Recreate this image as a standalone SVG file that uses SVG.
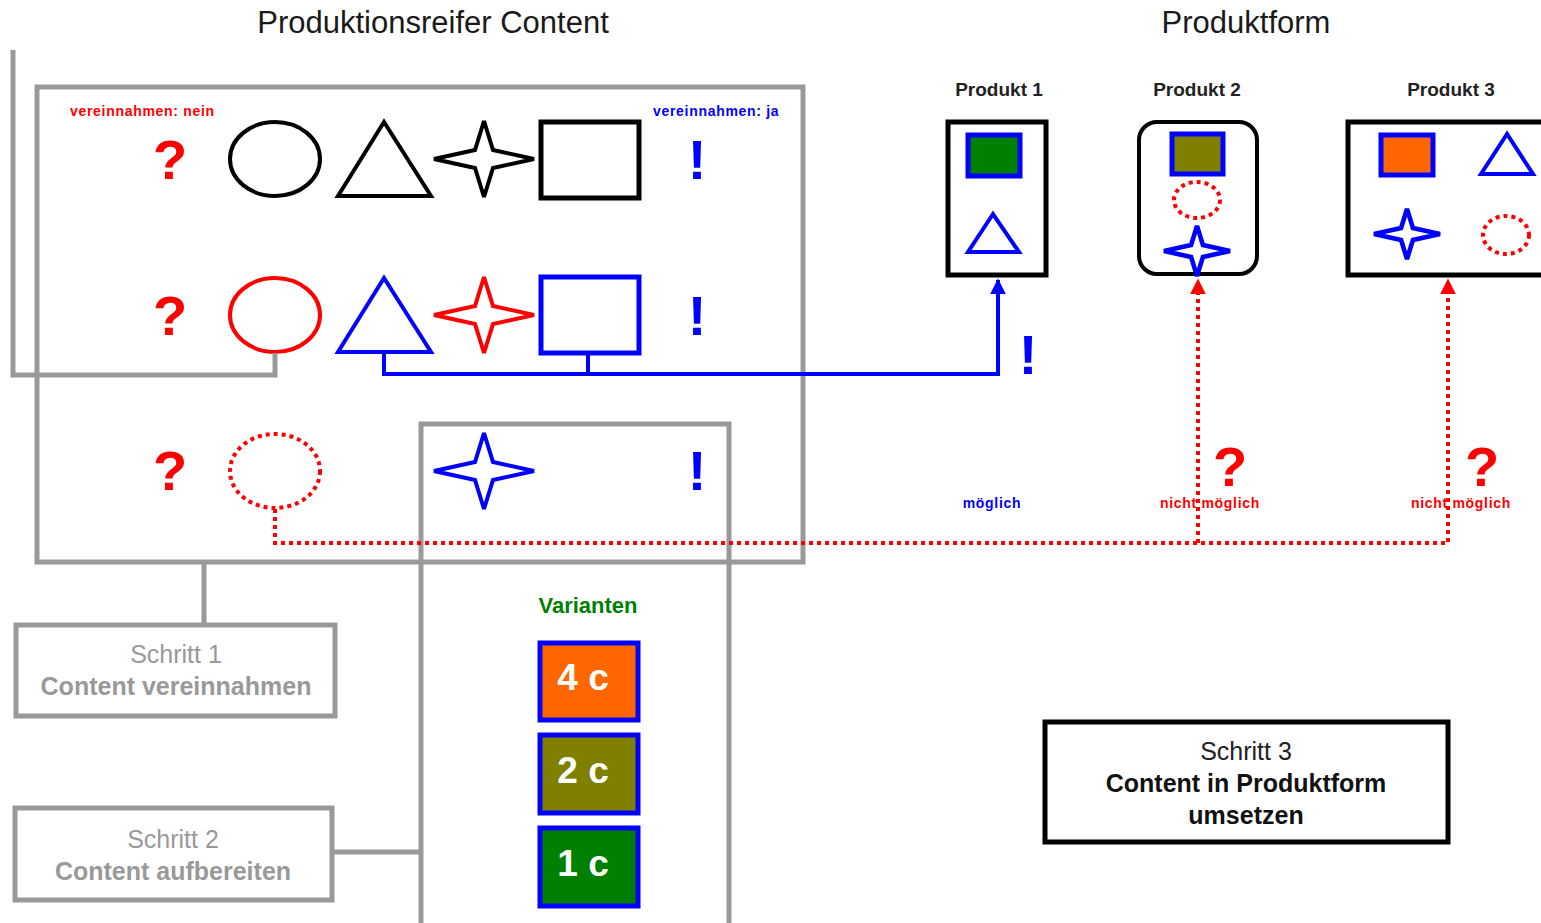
<svg xmlns="http://www.w3.org/2000/svg" width="1541" height="923" viewBox="0 0 1541 923">
<style>
text{font-family:"Liberation Sans",Arial,sans-serif}
.g{fill:none;stroke:#999;stroke-width:5}
.q{fill:#f00;font-weight:bold;font-size:56px;text-anchor:middle}
.x{fill:#00f;font-weight:bold;font-size:56px;text-anchor:middle}
.hd{fill:#1a1a1a;font-size:31px;text-anchor:middle}
.pl{fill:#222;font-size:19px;font-weight:bold;text-anchor:middle}
.sm{font-size:14px;font-weight:bold;letter-spacing:0.7px}
.st{fill:#999;font-size:25px;text-anchor:middle}
.stb{fill:#999;font-size:25px;font-weight:bold;text-anchor:middle}
.vt{fill:#fff;font-size:37px;font-weight:bold;text-anchor:middle}
.vb{stroke:#00f;stroke-width:5}
.dot{fill:none;stroke:#f00;stroke-width:4;stroke-dasharray:4 4}
</style>
<defs>
<path id="star" d="M0,-38 L9,-9 L50,0 L9,9 L0,38 L-9,9 L-50,0 L-9,-9 Z" stroke-linejoin="miter" stroke-miterlimit="2"/>
<marker id="ab" viewBox="0 0 10 10" refX="9" refY="5" markerWidth="4" markerHeight="4" orient="auto" markerUnits="strokeWidth"><path d="M0,0 L10,5 L0,10 Z" fill="#00f"/></marker>
<marker id="ar" viewBox="0 0 10 10" refX="9" refY="5" markerWidth="4" markerHeight="4" orient="auto" markerUnits="strokeWidth"><path d="M0,0 L10,5 L0,10 Z" fill="#f00"/></marker>
</defs>
<rect width="1541" height="923" fill="#fff"/>

<text class="hd" x="433" y="33">Produktionsreifer Content</text>
<text class="hd" x="1246" y="33">Produktform</text>

<g id="content-box">
<rect class="g" x="37" y="87" width="766" height="475"/>
<text class="sm" x="70" y="116" fill="#f00">vereinnahmen: nein</text>
<text class="sm" x="653" y="116" fill="#00f">vereinnahmen: ja</text>
</g>

<g id="varianten-box">
<rect class="g" x="421" y="424" width="308" height="505"/>
<text x="588" y="613" fill="#008000" font-size="22" font-weight="bold" text-anchor="middle">Varianten</text>
<rect class="vb" x="540" y="643" width="98" height="77" fill="#f60"/>
<text class="vt" x="583" y="690">4 c</text>
<rect class="vb" x="540" y="735" width="98" height="78" fill="#808000"/>
<text class="vt" x="583" y="783">2 c</text>
<rect class="vb" x="540" y="828" width="98" height="78" fill="#008000"/>
<text class="vt" x="583" y="876">1 c</text>
</g>

<g id="row1">
<text class="q" x="170" y="179">?</text>
<ellipse cx="275" cy="159" rx="45" ry="37" fill="none" stroke="#000" stroke-width="4"/>
<polygon points="384,122 338,196 431,196" fill="none" stroke="#000" stroke-width="4"/>
<use href="#star" transform="translate(484,159)" fill="none" stroke="#000" stroke-width="4"/>
<rect x="541" y="122" width="98" height="76" fill="none" stroke="#000" stroke-width="5"/>
<text class="x" x="697" y="179">!</text>
</g>

<g id="row2">
<text class="q" x="170" y="335">?</text>
<ellipse cx="275" cy="315" rx="45" ry="37" fill="none" stroke="#f00" stroke-width="4"/>
<polygon points="384,278 338,352 431,352" fill="none" stroke="#00f" stroke-width="4"/>
<use href="#star" transform="translate(484,315)" fill="none" stroke="#f00" stroke-width="4"/>
<rect x="541" y="277" width="98" height="76" fill="none" stroke="#00f" stroke-width="5"/>
<text class="x" x="697" y="335">!</text>
</g>

<g id="row3">
<text class="q" x="170" y="490">?</text>
<ellipse class="dot" cx="275" cy="471" rx="45" ry="37"/>
<use href="#star" transform="translate(484,471)" fill="none" stroke="#00f" stroke-width="4"/>
<text class="x" x="697" y="490">!</text>
</g>

<g id="schritt1">
<rect class="g" x="16" y="625" width="319" height="91"/>
<text class="st" x="176" y="663">Schritt 1</text>
<text class="stb" x="176" y="695">Content vereinnahmen</text>
</g>
<g id="schritt2">
<rect class="g" x="15" y="808" width="317" height="92"/>
<text class="st" x="173" y="848">Schritt 2</text>
<text class="stb" x="173" y="880">Content aufbereiten</text>
</g>
<g id="schritt3">
<rect x="1045" y="722" width="403" height="120" fill="none" stroke="#000" stroke-width="5"/>
<text x="1246" y="760" fill="#222" font-size="25" text-anchor="middle">Schritt 3</text>
<text x="1246" y="792" fill="#111" font-size="25" font-weight="bold" text-anchor="middle">Content in Produktform</text>
<text x="1246" y="824" fill="#111" font-size="25" font-weight="bold" text-anchor="middle">umsetzen</text>
</g>

<g id="produkt1">
<text class="pl" x="999" y="96">Produkt 1</text>
<rect x="948" y="122" width="98" height="153" fill="none" stroke="#000" stroke-width="5"/>
<rect x="968" y="135" width="52" height="41" fill="#008000" stroke="#00f" stroke-width="5"/>
<polygon points="993,214 968,252 1019,252" fill="none" stroke="#00f" stroke-width="4"/>
</g>
<g id="produkt2">
<text class="pl" x="1197" y="96">Produkt 2</text>
<rect x="1139" y="122" width="118" height="152" rx="18" fill="none" stroke="#000" stroke-width="4"/>
<rect x="1172" y="134" width="51" height="40" fill="#808000" stroke="#00f" stroke-width="5"/>
<ellipse class="dot" cx="1197" cy="200" rx="23" ry="18"/>
<use href="#star" transform="translate(1197,251) scale(0.66)" fill="none" stroke="#00f" stroke-width="7"/>
</g>
<g id="produkt3">
<text class="pl" x="1451" y="96">Produkt 3</text>
<rect x="1348" y="122" width="200" height="153" fill="none" stroke="#000" stroke-width="5"/>
<rect x="1381" y="135" width="52" height="40" fill="#f60" stroke="#00f" stroke-width="5"/>
<polygon points="1507,134 1481,174 1533,174" fill="none" stroke="#00f" stroke-width="4"/>
<use href="#star" transform="translate(1407,234) scale(0.66)" fill="none" stroke="#00f" stroke-width="7"/>
<ellipse class="dot" cx="1506" cy="235" rx="23" ry="19"/>
</g>

<g id="connectors">
<polyline class="g" points="13,50 13,375 275,375 275,353"/>
<line class="g" x1="204" y1="562" x2="204" y2="625"/>
<line class="g" x1="332" y1="852" x2="421" y2="852"/>
<polyline points="384,352 384,374 998,374 998,280" fill="none" stroke="#00f" stroke-width="4" marker-end="url(#ab)"/>
<line x1="588" y1="353" x2="588" y2="374" stroke="#00f" stroke-width="4"/>
<polyline class="dot" points="275,509 275,543 1448,543 1448,280" marker-end="url(#ar)"/>
<line class="dot" x1="1198" y1="543" x2="1198" y2="280" marker-end="url(#ar)"/>
<text class="x" x="1028" y="374">!</text>
<text class="q" x="1230" y="486">?</text>
<text class="q" x="1482" y="486">?</text>
<text class="sm" x="992" y="508" fill="#00f" text-anchor="middle">möglich</text>
<text class="sm" x="1210" y="508" fill="#f00" text-anchor="middle">nicht möglich</text>
<text class="sm" x="1461" y="508" fill="#f00" text-anchor="middle">nicht möglich</text>
</g>
</svg>
